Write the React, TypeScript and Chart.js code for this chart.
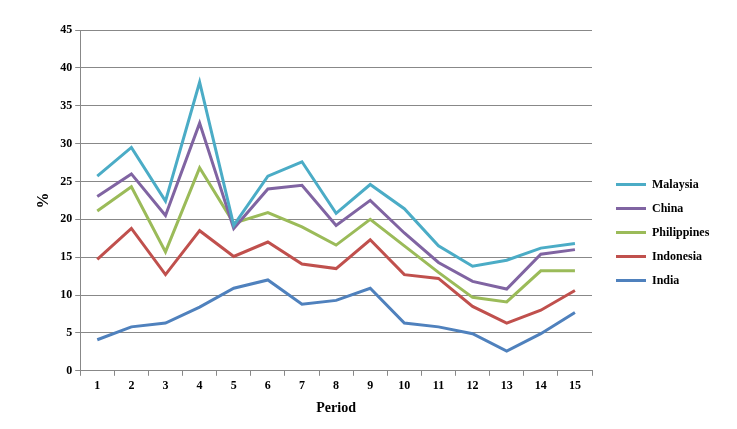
import React, { useEffect, useRef } from "react";
import { Chart, registerables } from "chart.js";
Chart.register(...registerables);

const periods = ["1","2","3","4","5","6","7","8","9","10","11","12","13","14","15"];
const malaysia = [25.7,29.5,22.4,38.1,19.2,25.7,27.6,20.8,24.6,21.4,16.5,13.8,14.6,16.2,16.8];
const china = [23,26,20.5,32.7,18.8,24,24.5,19.2,22.5,18.2,14.3,11.8,10.8,15.4,16.0];
const philippines = [21.1,24.3,15.7,26.8,19.5,20.9,19,16.6,20,16.5,13,9.7,9.1,13.2,13.2];
const indonesia = [14.7,18.8,12.7,18.5,15.1,17,14.1,13.5,17.3,12.7,12.2,8.5,6.3,8,10.6];
const india = [4.1,5.8,6.3,8.4,10.9,12,8.8,9.3,10.9,6.3,5.8,4.9,2.6,4.9,7.7];
const seriesNames = ["Malaysia","China","Philippines","Indonesia","India"];
const colors = ["#4BACC6","#8064A2","#9BBB59","#C0504D","#4F81BD"];

export default function App() {
  const ref = useRef<HTMLCanvasElement>(null);
  useEffect(() => {
    const data = [malaysia, china, philippines, indonesia, india];
    const font = { family: "Liberation Serif", size: 12, weight: "bold" as const };
    const chart = new Chart(ref.current!, {
      type: "line",
      data: {
        labels: periods,
        datasets: data.map((d, i) => ({
          label: seriesNames[i], data: d, borderColor: colors[i], backgroundColor: colors[i],
          borderWidth: 3, pointRadius: 0, tension: 0,
        })),
      },
      options: {
        responsive: false, animation: false,
        layout: { padding: { top: 30, right: 145, left: 30, bottom: 8 } },
        plugins: { legend: { display: false }, tooltip: { enabled: false } },
        scales: {
          x: {
            offset: true,
            grid: { display: true, drawOnChartArea: false, color: "#888", tickLength: 5, offset: true },
            border: { color: "#888" },
            ticks: { color: "#000", font },
            title: { display: true, text: "Period", color: "#000", font: { ...font, size: 14 } },
          },
          y: {
            min: 0, max: 45,
            ticks: { stepSize: 5, color: "#000", font },
            grid: { color: "#888", tickLength: 5 },
            border: { color: "#888" },
            title: { display: true, text: "%", color: "#000", font: { ...font, size: 16 } },
          },
        },
      },
    });
    return () => chart.destroy();
  }, []);
  return (
    <div style={{ position: "fixed", left: 0, top: 0, width: 737, height: 429, background: "#fff" }}>
      <canvas ref={ref} width={737} height={429} />
      <div style={{ position: "absolute", left: 616, top: 172, fontFamily: "Liberation Serif", fontWeight: "bold", fontSize: 12 }}>
        {seriesNames.map((n, i) => (
          <div key={n} style={{ display: "flex", alignItems: "center", height: 24 }}>
            <div style={{ width: 30, height: 3, background: colors[i], marginRight: 6 }} />
            <span>{n}</span>
          </div>
        ))}
      </div>
    </div>
  );
}
